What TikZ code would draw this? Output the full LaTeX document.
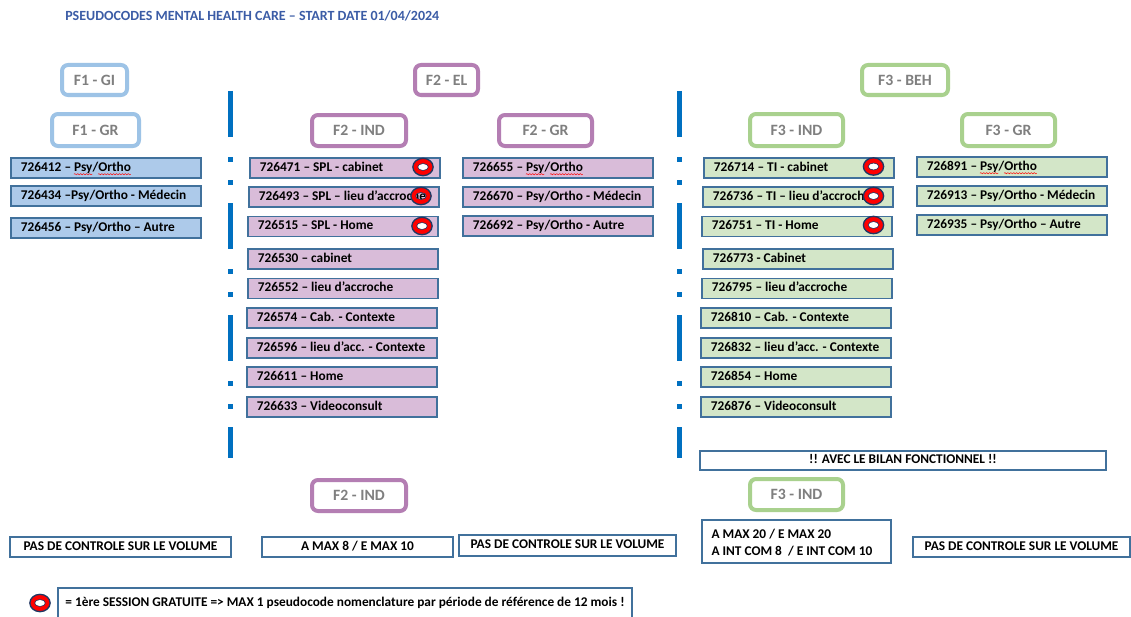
\documentclass[tikz,border=0pt]{standalone}
\usepackage{fontspec}
\setmainfont{Carlito}
\usetikzlibrary{decorations.pathmorphing}
\definecolor{boxblue}{HTML}{41719C}
\definecolor{sepblue}{HTML}{0070C0}
\definecolor{titleblue}{HTML}{3B5CA6}
\definecolor{lblgray}{HTML}{7F7F7F}
\definecolor{fonelbl}{HTML}{9DC3E6}
\definecolor{ftwolbl}{HTML}{B47EB3}
\definecolor{fthreelbl}{HTML}{A9D18E}
\definecolor{fonefill}{HTML}{ADCAEA}
\definecolor{ftwofill}{HTML}{D9BCD9}
\definecolor{fthreefill}{HTML}{D3E6C8}
\definecolor{ringred}{HTML}{FF0000}
\definecolor{ringnavy}{HTML}{1F3864}
\newlength\sqw
\newcommand\squig[1]{\settowidth\sqw{#1}#1\llap{\tikz[baseline=0pt]\draw[red,line width=0.35pt,decorate,decoration={snake,amplitude=0.45pt,segment length=2.2pt}](0pt,-2.2pt)--(\sqw,-2.2pt);}}
\newcommand\cb[1]{\makebox[127.5pt][l]{#1}}
\tikzset{
  x=0.75pt, y=-0.75pt,
  code/.style={draw=boxblue, line width=1.4pt, minimum height=15pt, inner xsep=7.5pt, inner ysep=0pt,
    text height=7pt, text depth=2pt, anchor=north west, font=\fontsize{10}{12}\selectfont\bfseries},
  fone/.style={code, fill=fonefill},
  ftwo/.style={code, fill=ftwofill},
  fthree/.style={code, fill=fthreefill},
  lbl/.style={rounded corners=4.5pt, line width=3pt, fill=white, text=lblgray, inner sep=0pt,
    font=\fontsize{11.8}{13}\selectfont\bfseries},
  plainbase/.style={draw=boxblue, line width=1.1pt, fill=white, inner sep=0pt,
    font=\fontsize{10}{12}\selectfont\bfseries},
  plain/.style={plainbase, text height=7pt, text depth=2pt},
  sep/.style={draw=sepblue, line width=3.75pt, dash pattern=on 34.5pt off 15pt on 3.75pt off 13.5pt on 3.75pt off 13.5pt},
  ring/.pic={
    \fill[white] (0,0) ellipse [x radius=4pt, y radius=2.6pt];
    \fill[ringred, even odd rule] (0,0) ellipse [x radius=7.6pt, y radius=6.5pt] (0,0) ellipse [x radius=4pt, y radius=2.6pt];
    \draw[ringnavy, line width=1pt] (0,0) ellipse [x radius=7.6pt, y radius=6.5pt];
    \draw[ringnavy, line width=0.45pt] (0,0) ellipse [x radius=4pt, y radius=2.6pt];
  },
  ringo/.pic={
    \fill[ringred, even odd rule] (0,0) ellipse [x radius=7.6pt, y radius=6.5pt] (0,0) ellipse [x radius=4pt, y radius=2.6pt];
    \draw[ringnavy, line width=1pt] (0,0) ellipse [x radius=7.6pt, y radius=6.5pt];
    \draw[ringnavy, line width=0.45pt] (0,0) ellipse [x radius=4pt, y radius=2.6pt];
  }
}
\begin{document}
\begin{tikzpicture}
\useasboundingbox[fill=white] (0,0) rectangle (1131,617);

% title
\node[anchor=west, text=titleblue, inner sep=0pt, font=\fontsize{10.5}{12}\selectfont\bfseries] (title) at (65,16)
  {PSEUDOCODES MENTAL HEALTH CARE – START DATE 01/04/2024};

% separators
\coordinate (s1a) at (230.5,91); \coordinate (s1b) at (230.5,458);
\coordinate (s2a) at (679.5,91); \coordinate (s2b) at (679.5,458);
\draw[sep] (s1a) -- (s1b);
\draw[sep] (s2a) -- (s2b);

% labels
\node[lbl, draw=fonelbl, minimum width=48.75pt, minimum height=22.5pt] (f1gi) at (94.5,80) {F1 - GI};
\node[lbl, draw=fonelbl, minimum width=65.25pt, minimum height=24pt] (f1gr) at (95.5,130) {F1 - GR};
\node[lbl, draw=ftwolbl, minimum width=47.25pt, minimum height=22.5pt] (f2el) at (446.5,80) {F2 - EL};
\node[lbl, draw=ftwolbl, minimum width=70.5pt, minimum height=23.25pt] (f2ind) at (359,130.5) {F2 - IND};
\node[lbl, draw=ftwolbl, minimum width=69.75pt, minimum height=23.25pt] (f2gr) at (545.5,130.5) {F2 - GR};
\node[lbl, draw=fthreelbl, minimum width=64.5pt, minimum height=22.5pt] (f3beh) at (905,80) {F3 - BEH};
\node[lbl, draw=fthreelbl, minimum width=69.75pt, minimum height=24pt] (f3ind) at (796.5,130) {F3 - IND};
\node[lbl, draw=fthreelbl, minimum width=69.75pt, minimum height=24pt] (f3gr) at (1008.5,130) {F3 - GR};
\node[lbl, draw=ftwolbl, minimum width=70.5pt, minimum height=23.25pt] (f2indb) at (359,495.5) {F2 - IND};
\node[lbl, draw=fthreelbl, minimum width=69.75pt, minimum height=23.25pt] (f3indb) at (796.5,494.5) {F3 - IND};

% F1 codes
\node[fone] (c726412) at (10,157) {\cb{726412 – \squig{Psy}/\squig{Ortho}}};
\node[fone] (c726434) at (10,185) {\cb{726434 –Psy/Ortho - Médecin}};
\node[fone] (c726456) at (10,217) {\cb{726456 – Psy/Ortho – Autre}};

% F2 IND codes
\node[ftwo] (c726471) at (249,157) {\cb{726471 – SPL - cabinet}};
\node[ftwo] (c726493) at (248,186) {\cb{726493 – SPL – lieu d’accroche}};
\node[ftwo] (c726515) at (247,215.5) {\cb{726515 – SPL - Home}};
\node[ftwo] (c726530) at (247,248) {\cb{726530 – cabinet}};
\node[ftwo] (c726552) at (247,277.5) {\cb{726552 – lieu d’accroche}};
\node[ftwo] (c726574) at (246,307) {\cb{726574 – Cab. - Contexte}};
\node[ftwo] (c726596) at (246,337) {\cb{726596 – lieu d’acc. - Contexte}};
\node[ftwo] (c726611) at (246,366) {\cb{726611 – Home}};
\node[ftwo] (c726633) at (246,396) {\cb{726633 – Videoconsult}};

% F2 GR codes
\node[ftwo] (c726655) at (462,157) {\cb{726655 – \squig{Psy}/\squig{Ortho}}};
\node[ftwo] (c726670) at (462,186) {\cb{726670 – Psy/Ortho - Médecin}};
\node[ftwo] (c726692) at (462,215) {\cb{726692 – Psy/Ortho - Autre}};

% F3 IND codes
\node[fthree] (c726714) at (703,157) {\cb{726714 – TI - cabinet}};
\node[fthree] (c726736) at (702,186) {\cb{726736 – TI – lieu d’accroche}};
\node[fthree] (c726751) at (701,215.5) {\cb{726751 – TI - Home}};
\node[fthree] (c726773) at (702,248) {\cb{726773 - Cabinet}};
\node[fthree] (c726795) at (701,277.5) {\cb{726795 – lieu d’accroche}};
\node[fthree] (c726810) at (700,307) {\cb{726810 – Cab. - Contexte}};
\node[fthree] (c726832) at (700,337) {\cb{726832 – lieu d’acc. - Contexte}};
\node[fthree] (c726854) at (700,366) {\cb{726854 – Home}};
\node[fthree] (c726876) at (700,396) {\cb{726876 – Videoconsult}};

% F3 GR codes
\node[fthree] (c726891) at (916,156) {\cb{726891 – \squig{Psy}/\squig{Ortho}}};
\node[fthree] (c726913) at (916,185) {\cb{726913 – Psy/Ortho - Médecin}};
\node[fthree] (c726935) at (916,214) {\cb{726935 – Psy/Ortho – Autre}};

% rings
\pic at (423,167) {ring};
\pic at (421,196) {ringo};
\pic at (422,226) {ring};
\pic at (873.5,166.5) {ring};
\pic at (873.5,196) {ring};
\pic at (873.5,225) {ring};

% bottom boxes
\node[plain, minimum width=304.5pt, minimum height=14.25pt] (bilan) at (903,460.5) {!! AVEC LE BILAN FONCTIONNEL !!};
\node[plain, minimum width=165.75pt, minimum height=15pt] (pas1) at (120.5,547) {PAS DE CONTROLE SUR LE VOLUME};
\node[plain, minimum width=143.25pt, minimum height=15pt] (amax8) at (357.5,547) {A MAX 8 / E MAX 10};
\node[plain, minimum width=162.75pt, minimum height=15.75pt] (pas2) at (567.5,545.5) {PAS DE CONTROLE SUR LE VOLUME};
\node[plainbase, minimum width=141.75pt, minimum height=32.25pt] (amax20) at (796.5,541.5) {};
\node[anchor=west, inner sep=0pt, align=left, font=\fontsize{10}{12.75}\selectfont\bfseries] (amax20t) at ([xshift=7.5pt,yshift=-0.5pt]amax20.west)
  {A MAX 20 / E MAX 20\\A INT COM 8 \ / E INT COM 10};
\node[plain, minimum width=162.75pt, minimum height=15pt] (pas3) at (1021.5,547) {PAS DE CONTROLE SUR LE VOLUME};

% legend
\pic at (40,603) {ring};
\node[plain, minimum width=430.5pt, minimum height=22.5pt] (legend) at (345,603)
  {= 1ère SESSION GRATUITE => MAX 1 pseudocode nomenclature par période de référence de 12 mois !};
\end{tikzpicture}
\end{document}
